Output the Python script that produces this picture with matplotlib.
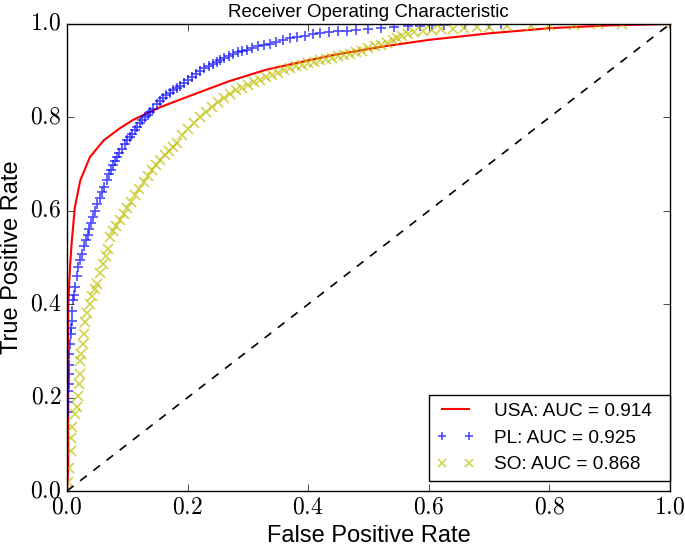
import matplotlib
matplotlib.use("Agg")
import matplotlib.pyplot as plt
from matplotlib.ticker import FuncFormatter

plt.style.use("classic")
plt.rcParams["mathtext.fontset"] = "cm"
plt.rcParams["font.family"] = ["Liberation Sans", "DejaVu Sans"]

# ROC data
usa_fpr = [0.0, 0.002, 0.002, 0.005, 0.008, 0.013, 0.022, 0.038, 0.061,
           0.088, 0.11, 0.133, 0.155, 0.177, 0.216, 0.27, 0.33, 0.40, 0.44, 0.52,
           0.60, 0.70, 0.80, 0.90, 1.0]
usa_tpr = [0.0, 0.05, 0.40, 0.48, 0.536, 0.607, 0.665, 0.715, 0.751,
           0.777, 0.795, 0.809, 0.822, 0.833, 0.852, 0.878, 0.902, 0.922, 0.933, 0.951,
           0.966, 0.98, 0.991, 0.997, 1.0]

pl_fpr = [0.002, 0.002, 0.002, 0.003, 0.003, 0.003, 0.004, 0.005, 0.006, 0.007,
          0.008, 0.009, 0.010, 0.012, 0.013, 0.016, 0.019, 0.022, 0.025, 0.028,
          0.031, 0.034, 0.037, 0.040, 0.043, 0.047, 0.050, 0.054, 0.058, 0.062,
          0.066, 0.070, 0.073, 0.077, 0.080, 0.083, 0.087, 0.091, 0.096, 0.100,
          0.104, 0.108, 0.112, 0.116, 0.121, 0.125, 0.130, 0.134, 0.138, 0.143,
          0.150, 0.155, 0.160, 0.165, 0.170, 0.176, 0.182, 0.188, 0.194, 0.200,
          0.207, 0.214, 0.221, 0.228, 0.235, 0.242, 0.248, 0.254, 0.261, 0.268,
          0.276, 0.283, 0.290, 0.298, 0.306, 0.316, 0.326, 0.336, 0.347, 0.358,
          0.370, 0.382, 0.395, 0.408, 0.420, 0.435, 0.450, 0.465, 0.480, 0.500,
          0.520, 0.542, 0.565, 0.586, 0.605, 0.625, 0.660, 0.700, 0.720, 1.0]
pl_tpr = [0.17, 0.19, 0.214, 0.23, 0.25, 0.27, 0.294, 0.315, 0.337, 0.35,
          0.365, 0.386, 0.408, 0.42, 0.436, 0.46, 0.48, 0.495, 0.508, 0.525,
          0.538, 0.549, 0.562, 0.574, 0.586, 0.60, 0.615, 0.628, 0.640, 0.652,
          0.666, 0.678, 0.688, 0.698, 0.706, 0.715, 0.724, 0.733, 0.742, 0.751,
          0.758, 0.765, 0.772, 0.780, 0.788, 0.795, 0.801, 0.806, 0.811, 0.818,
          0.828, 0.836, 0.842, 0.848, 0.853, 0.858, 0.863, 0.868, 0.874, 0.880,
          0.887, 0.893, 0.899, 0.905, 0.910, 0.915, 0.919, 0.923, 0.928, 0.932,
          0.936, 0.939, 0.942, 0.945, 0.948, 0.952, 0.955, 0.958, 0.962, 0.966,
          0.970, 0.973, 0.975, 0.978, 0.980, 0.983, 0.984, 0.986, 0.988, 0.990,
          0.992, 0.993, 0.995, 0.996, 0.997, 0.998, 0.999, 1.0, 1.0, 1.0]

so_fpr = [0.000, 0.002, 0.004, 0.006, 0.007, 0.008, 0.013, 0.016, 0.019, 0.020,
          0.021, 0.022, 0.024, 0.027, 0.028, 0.030, 0.033, 0.038, 0.041, 0.046,
          0.050, 0.055, 0.060, 0.064, 0.068, 0.072, 0.077, 0.082, 0.088, 0.094,
          0.100, 0.106, 0.113, 0.120, 0.127, 0.134, 0.141, 0.148, 0.155, 0.162,
          0.169, 0.176, 0.183, 0.190, 0.200, 0.210, 0.220, 0.230, 0.240, 0.250,
          0.260, 0.270, 0.280, 0.290, 0.300, 0.310, 0.320, 0.330, 0.340, 0.350,
          0.360, 0.370, 0.380, 0.390, 0.400, 0.410, 0.420, 0.430, 0.440, 0.450,
          0.460, 0.470, 0.480, 0.490, 0.500, 0.510, 0.520, 0.530, 0.540, 0.548,
          0.556, 0.565, 0.575, 0.590, 0.605, 0.620, 0.640, 0.658, 0.680, 0.700,
          0.730, 0.769, 0.800, 0.840, 0.880, 0.920, 1.0]
so_tpr = [0.000, 0.02, 0.05, 0.085, 0.114, 0.136, 0.165, 0.179, 0.204, 0.229,
          0.25, 0.279, 0.294, 0.315, 0.337, 0.361, 0.382, 0.401, 0.418, 0.432,
          0.444, 0.466, 0.487, 0.503, 0.519, 0.543, 0.556, 0.568, 0.581, 0.594,
          0.606, 0.619, 0.633, 0.647, 0.661, 0.675, 0.688, 0.699, 0.709, 0.719,
          0.728, 0.737, 0.745, 0.763, 0.776, 0.788, 0.800, 0.812, 0.823, 0.833,
          0.842, 0.851, 0.858, 0.864, 0.870, 0.876, 0.881, 0.886, 0.891, 0.896,
          0.901, 0.905, 0.909, 0.913, 0.916, 0.919, 0.922, 0.925, 0.928, 0.931,
          0.934, 0.936, 0.939, 0.943, 0.948, 0.952, 0.955, 0.960, 0.965, 0.970,
          0.975, 0.979, 0.983, 0.985, 0.987, 0.989, 0.990, 0.991, 0.993, 0.994,
          0.995, 0.996, 0.997, 0.998, 0.999, 1.0, 1.0]

labels = ["USA: AUC = 0.914", "PL: AUC = 0.925", "SO: AUC = 0.868"]

fig = plt.figure(figsize=(6.85, 5.51), dpi=100, facecolor="white")
ax = fig.add_axes([67 / 685, 60 / 551, 603 / 685, 467 / 551])

ax.plot(usa_fpr, usa_tpr, "r-", lw=1.5, label=labels[0])
ax.plot(pl_fpr, pl_tpr, "b+", ms=7, mew=1.2, alpha=0.7, label=labels[1])
ax.plot(so_fpr, so_tpr, "yx", ms=7, mew=1.2, alpha=0.7, label=labels[2])
ax.plot([0, 1], [0, 1], "k--", lw=1.2)

ax.set_xlim(0, 1)
ax.set_ylim(0, 1)
fmt = FuncFormatter(lambda v, p: r"$%.1f$" % v)
ax.xaxis.set_major_formatter(fmt)
ax.yaxis.set_major_formatter(fmt)
ax.tick_params(labelsize=17, length=5)

ax.set_xlabel("False Positive Rate", fontsize=17)
ax.set_ylabel("True Positive Rate", fontsize=17)
ax.set_title("Receiver Operating Characteristic", fontsize=13.5)

ax.legend(loc="lower right", fontsize=13.7, mode="expand",
          bbox_to_anchor=(362 / 603, 10 / 467, 241 / 603, 0.2),
          borderaxespad=0, numpoints=2, fancybox=False, markerscale=0.8,
          handletextpad=1.0)

fig.savefig("out.png", dpi=100, facecolor="white")
